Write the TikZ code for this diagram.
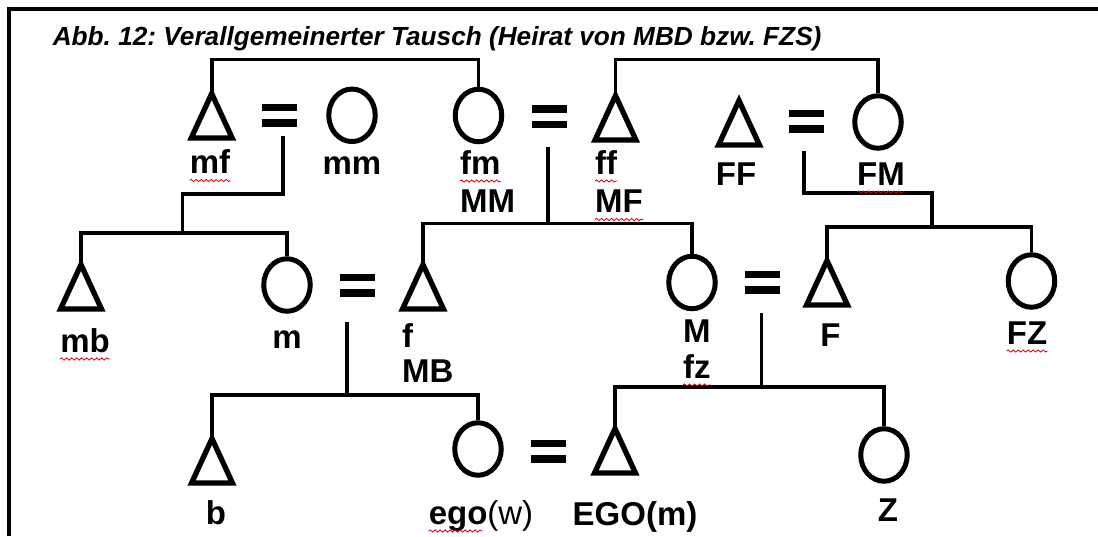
\documentclass[tikz,border=0pt]{standalone}
\usepackage{fontspec}
\setmainfont{Liberation Sans}
\usetikzlibrary{shapes.geometric,decorations.pathmorphing}
\frenchspacing
\newcommand\eqsign[2]{\draw[eqbar] (#1-17.5,#2-7.75) -- (#1+17.5,#2-7.75) (#1-17.5,#2+7.75) -- (#1+17.5,#2+7.75);}
\begin{document}
\begin{tikzpicture}[x=1pt,y=-1pt,
  male/.style={rectangle,inner sep=0pt,minimum width=40.5pt,minimum height=44pt},
  female/.style={ellipse,draw,line width=5pt,inner sep=0pt,minimum width=46.5pt,minimum height=52.5pt},
  sym/.style={line width=5.3pt,line join=miter},
  con/.style={line width=3.9pt,line join=miter},
  eqbar/.style={line width=7.5pt},
  lab/.style={font=\fontsize{33}{34}\selectfont\bfseries,inner sep=0pt,anchor=base},
  labl/.style={lab,anchor=base west},
  squig/.style={red!85!black,line width=0.8pt,decorate,decoration={snake,segment length=5pt,amplitude=1.1pt}},
  frame/.style={line width=4pt,line join=miter}
]
\useasboundingbox (0,0) rectangle (1098,536);
\draw[frame] (9.4,536) -- (9.4,9.2) -- (1098,9.2);
\node[anchor=base west,inner sep=0pt,font=\fontsize{26.2}{28}\selectfont\bfseries\itshape] (title) at (52.6,45) {Abb. 12: Verallgemeinerter Tausch (Heirat von MBD bzw. FZS)};

% males (triangles)
\node[male] (mf)  at (211.7,115.8) {};
\node[male] (ff)  at (615.5,117.8) {};
\node[male] (FF)  at (739,122.8) {};
\node[male] (mb)  at (81,286.8) {};
\node[male] (f)   at (423,286.8) {};
\node[male] (F)   at (827,282.8) {};
\node[male] (b)   at (212,460.8) {};
\node[male] (EGO) at (615,450.8) {};
\foreach \n in {mf,ff,FF,mb,f,F,b,EGO}
  \draw[sym] (\n.north) -- (\n.south east) -- (\n.south west) -- cycle;

% females (circles)
\node[female] (mm)  at (352,115.3) {};
\node[female] (fm)  at (478.5,115.5) {};
\node[female] (FM)  at (878,122) {};
\node[female] (m)   at (287,285) {};
\node[female] (M)   at (692,282.5) {};
\node[female] (FZ)  at (1031.5,281) {};
\node[female] (ego) at (478,449) {};
\node[female] (Z)   at (884,455) {};

% marriage signs
\eqsign{279}{115.3}
\eqsign{549.5}{116.5}
\eqsign{806}{121}
\eqsign{357}{285}
\eqsign{762}{282.3}
\eqsign{548}{451}

% junction coordinates
\coordinate (tA) at (212,59.5);
\coordinate (tB) at (616,59.5);
\coordinate (wA) at (283.3,136);
\coordinate (kA) at (182.5,194);
\coordinate (sA) at (182.5,232.7);
\coordinate (wB) at (548,146.7);
\coordinate (sB) at (548,223.5);
\coordinate (wC) at (804,151);
\coordinate (kC) at (932,193);
\coordinate (sC) at (932,227);
\coordinate (wD) at (347,322);
\coordinate (sD) at (347,395);
\coordinate (wE) at (761.5,313);
\coordinate (sE) at (761.5,387);

% top sibling brackets
\draw[con] (mf.north) -- (mf.north |- tA) -- (fm.north |- tA) -- (fm.north);
\draw[con] (ff.north) -- (ff.north |- tB) -- (FM.north |- tB) -- (FM.north);

% descent lines
\draw[con] (wA) |- (kA) -- (sA);
\draw[con] (mb.north) -- (mb.north |- sA) -- (m.north |- sA) -- (m.north);
\draw[con] (wB) -- (sB);
\draw[con] (f.north) -- (f.north |- sB) -- (M.north |- sB) -- (M.north);
\draw[con] (wC) |- (kC) -- (sC);
\draw[con] (F.north) -- (F.north |- sC) -- (FZ.north |- sC) -- (FZ.north);
\draw[con] (wD) -- (sD);
\draw[con] (b.north) -- (b.north |- sD) -- (ego.north |- sD) -- (ego.north);
\draw[con] (wE) -- (sE);
\draw[con] (EGO.north) -- (EGO.north |- sE) -- (Z.north |- sE) -- (Z.north);

% labels
\node[lab]  (lmf) at (210,173.5) {mf};
\node[lab]  (lmm) at (352,174) {mm};
\node[labl] (lfm) at (460,174) {fm};
\node[labl] (lMM) at (460,212.5) {MM};
\node[labl] (lff) at (595,174) {ff};
\node[labl] (lMF) at (595,212.5) {MF};
\node[lab]  (lFF) at (736,185) {FF};
\node[lab]  (lFM) at (881,185) {FM};
\node[lab]  (lmb) at (85,352) {mb};
\node[lab]  (lm)  at (287,348) {m};
\node[labl] (lf)  at (402,347) {f};
\node[labl] (lMB) at (402,382) {MB};
\node[labl] (lM)  at (683,342) {M};
\node[labl] (lfz) at (683,378) {fz};
\node[lab]  (lF)  at (830.5,346) {F};
\node[lab]  (lFZ) at (1027,344) {FZ};
\node[lab]  (lb)  at (216,524) {b};
\node[lab]  (lego) at (481,524) {ego{\mdseries(w)}};
\node[lab]  (lEGO) at (635,525) {EGO(m)};
\node[lab]  (lZ)  at (888,521) {Z};

% spell-check squiggles
\foreach \n in {lmf,lfm,lff,lMF,lFM,lmb,lfz,lFZ}
  \draw[squig] ([yshift=-7pt]\n.base west) -- ([yshift=-7pt]\n.base east);
\draw[squig] ([yshift=-7pt]lego.base west) -- ([xshift=54pt,yshift=-7pt]lego.base west);
\end{tikzpicture}
\end{document}
